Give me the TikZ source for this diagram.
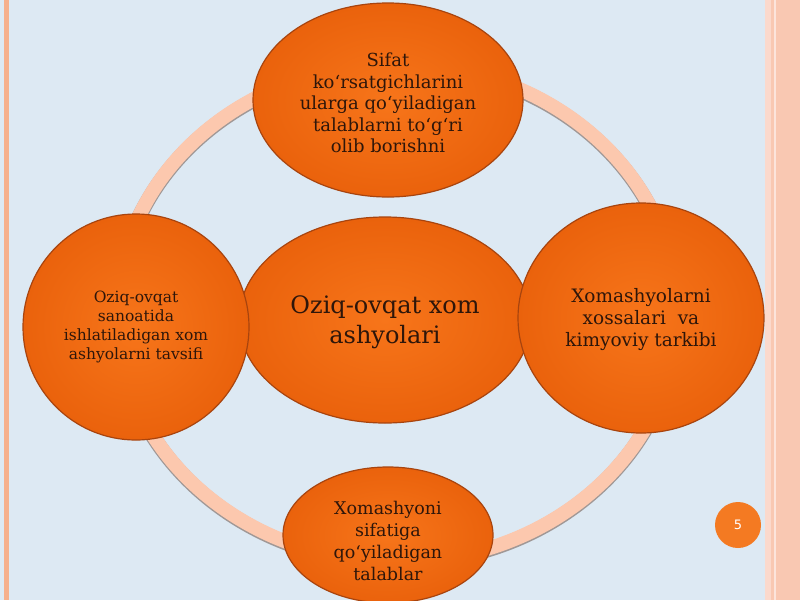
\documentclass[tikz,border=0pt]{standalone}
\usepackage{fontspec}
\setmainfont{DejaVu Serif}
\setsansfont{DejaVu Sans}
\usetikzlibrary{shapes.geometric}
\definecolor{bgblue}{HTML}{DDE9F3}
\definecolor{peach}{HTML}{F9C8B2}
\definecolor{peachlight}{HTML}{FBD9CC}
\definecolor{stripe}{HTML}{F6B08C}
\definecolor{ringc}{HTML}{FCC8AE}
\definecolor{ringsh}{HTML}{A09896}
\definecolor{orin}{HTML}{F7751A}
\definecolor{orout}{HTML}{EA620C}
\definecolor{oredge}{HTML}{A8440E}
\definecolor{txt}{HTML}{2E160A}
\definecolor{pagec}{HTML}{F47A22}
\tikzset{
  blob/.style={ellipse, inner sep=0pt, draw=oredge, line width=1.2pt,
    inner color=orin, outer color=orout},
  blobtext/.style={text=txt, align=center, inner sep=0pt},
}
\begin{document}
\begin{tikzpicture}[x=1pt,y=-1pt]
\useasboundingbox (0,0) rectangle (800,600);
% background
\fill[bgblue] (0,0) rectangle (800,600);
\fill[stripe] (4,0) rectangle (9,600);
\fill[peach] (766,0) rectangle (800,600);
\fill[peachlight] (765,0) rectangle (771,600);
\fill[peachlight!70!white] (774,0) rectangle (776,600);
% ring
\draw[ringsh, line width=15pt] (397,314.2) ellipse [x radius=280pt, y radius=249pt];
\draw[ringc, line width=14pt] (397,313) ellipse [x radius=280pt, y radius=249pt];
% center
\node[blob, minimum width=292pt, minimum height=206pt] (c) at (385,320) {};
\node[blobtext, font=\fontsize{24}{30}\selectfont] (ct) at (385,322) {Oziq-ovqat xom\\ashyolari};
% top
\node[blob, minimum width=270pt, minimum height=194pt] (t) at (388,100) {};
\node[blobtext, font=\fontsize{18}{21.5}\selectfont] (tt) at (388,103) {Sifat\\ko‘rsatgichlarini\\ularga qo‘yiladigan\\talablarni to‘g‘ri\\olib borishni};
% left
\node[blob, minimum width=226pt, minimum height=226pt] (l) at (136,327) {};
\node[blobtext, font=\fontsize{15.5}{19}\selectfont] (lt) at (136,327) {Oziq-ovqat\\sanoatida\\ishlatiladigan xom\\ashyolarni tavsifi};
% right
\node[blob, minimum width=246pt, minimum height=230pt] (r) at (641,318) {};
\node[blobtext, font=\fontsize{18.5}{22}\selectfont] (rt) at (641,320) {Xomashyolarni\\xossalari\ \ va\\kimyoviy tarkibi};
% bottom
\node[blob, minimum width=210pt, minimum height=136pt] (b) at (388,535) {};
\node[blobtext, font=\fontsize{17.5}{22}\selectfont] (bt) at (388,541) {Xomashyoni\\sifatiga\\qo‘yiladigan\\talablar};
% page number
\node[circle, fill=pagec, minimum size=46pt, inner sep=0pt, text=white,
  font=\sffamily\fontsize{13}{13}\selectfont] (pg) at (738,525) {5};
\end{tikzpicture}
\end{document}
